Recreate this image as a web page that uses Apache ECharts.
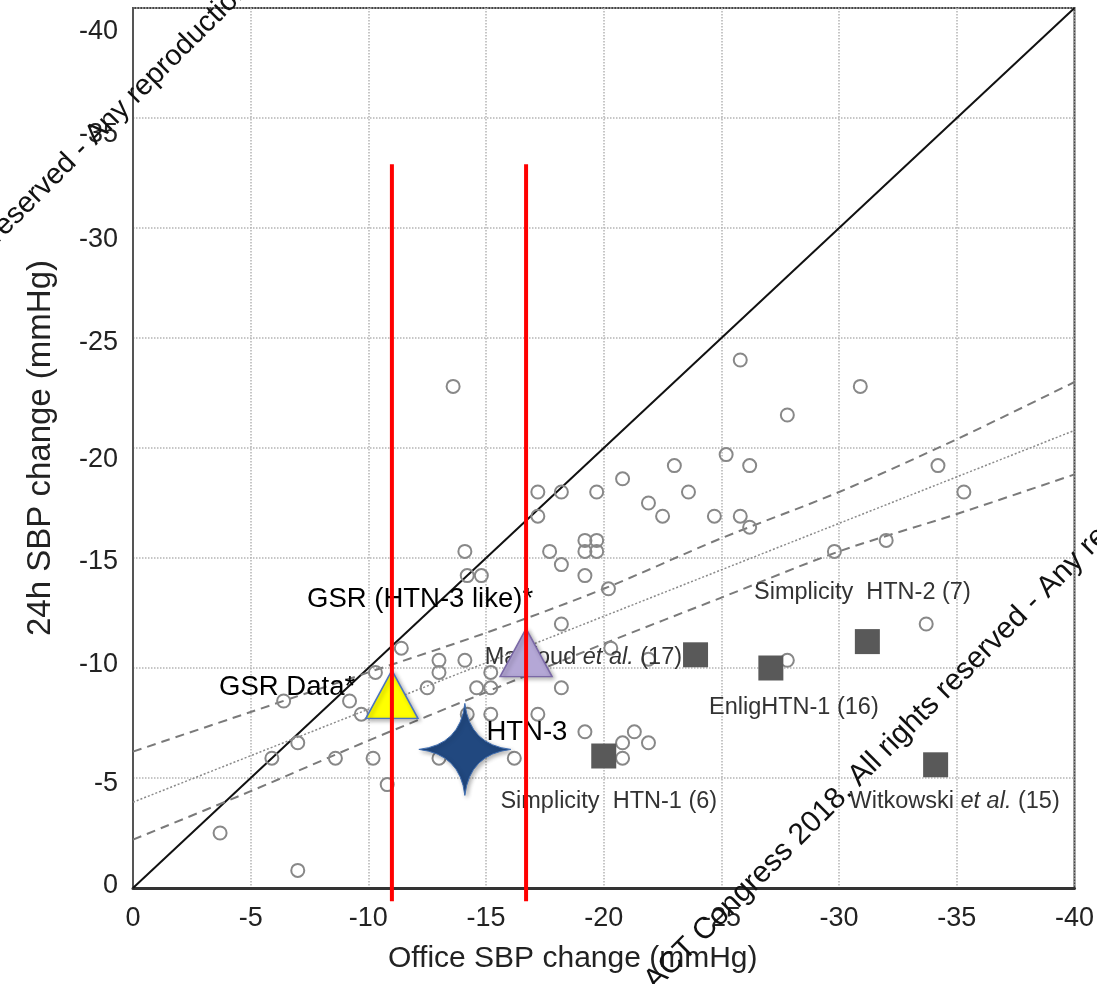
<!DOCTYPE html>
<html>
<head>
<meta charset="utf-8">
<script src="https://cdn.jsdelivr.net/npm/echarts@6/dist/echarts.min.js"></script>
<style>
  html, body { margin: 0; padding: 0; background: #fff; }
  #chart { width: 1097px; height: 984px; }
</style>
</head>
<body>
<div id="chart"></div>
<script>
// Axis ticks (mmHg)
const axisMin = -40;
const axisMax = 0;
const axisStep = 5;

// Line of identity and regression fit with its confidence band
const identityOffice = [0, -40];
const identity24h = [0, -40];
const fitOffice = [0, -40];
const fit24h = [-3.9, -20.8];
const bandOffice = [0, -5, -10, -15, -20, -25, -30, -35, -40];
const bandUpper = [-6.2, -8.0, -9.8, -11.6, -13.6, -15.9, -18.0, -20.4, -23.0];
const bandLower = [-2.2, -4.4, -6.7, -8.9, -11.1, -13.2, -15.3, -17.0, -18.8];

// Individual drug / device studies (open circles)
const studyOffice = [
  -13.6, -14.1, -25.8, -27.8, -25.2, -26.2, -23.0, -20.8, -17.2, -18.2,
  -19.7, -23.6, -17.2, -21.9, -22.5, -24.7, -25.8, -26.2, -19.2, -19.7,
  -19.2, -19.7, -17.7, -30.9, -34.2, -35.3, -20.2, -32.0, -29.8, -33.7,
  -14.2, -14.8, -18.2, -19.2, -18.2, -11.4, -13.0, -14.1, -10.3, -13.0,
  -15.2, -6.4, -9.2, -12.5, -14.6, -15.2, -9.7, -7.0, -5.9, -8.6,
  -10.2, -13.0, -16.2, -14.2, -15.2, -10.8, -3.7, -7.0, -20.3, -21.9,
  -18.2, -17.2, -19.2, -21.3, -21.9, -20.8, -20.8, -27.8
];
const study24h = [
  -22.8, -15.3, -24.0, -21.5, -19.7, -19.2, -19.2, -18.6, -18.0, -18.0,
  -18.0, -18.0, -16.9, -17.5, -16.9, -16.9, -16.9, -16.4, -15.8, -15.8,
  -15.3, -15.3, -15.3, -22.8, -19.2, -18.0, -13.6, -15.8, -15.3, -12.0,
  -14.2, -14.2, -14.7, -14.2, -12.0, -10.9, -10.35, -10.35, -9.8, -9.8,
  -9.8, -8.5, -8.5, -9.1, -9.1, -9.1, -7.9, -6.6, -5.9, -5.9,
  -5.9, -5.9, -5.9, -7.9, -7.9, -4.7, -2.5, -0.8, -10.9, -10.4,
  -9.1, -7.9, -7.1, -7.1, -6.6, -6.6, -5.9, -10.35
];

// Renal denervation trials (filled squares)
const trialNames = ['Simplicity  HTN-1 (6)', 'Mahfoud et al. (17)', 'EnligHTN-1 (16)', 'Simplicity  HTN-2 (7)', 'Witkowski et al. (15)'];
const trialOffice = [-20.0, -23.9, -27.1, -31.2, -34.1];
const trial24h = [-6.0, -10.6, -10.0, -11.2, -5.6];

// GSR results (triangles)
const gsrNames = ['GSR Data*', 'GSR (HTN-3 like)*'];
const gsrOffice = [-11.0, -16.7];
const gsr24h = [-8.8, -10.7];

// HTN-3 (star)
const htn3Name = 'HTN-3';
const htn3Office = -14.1;
const htn324h = -6.3;

// Reference cut-offs (red verticals)
const cutoffOffice = [-11.0, -16.7];
const cutoffSpan = [-32.9, 0.6];

// ---------- layout / style ----------
const FONT = "'Liberation Sans', Arial, sans-serif";
const TICK_FONT = 27;
const TRIAL_FONT = 23.5;

// vertical nudge (px) of each y tick label below its gridline
const yLabelDrop = { 40: 24, 35: 17, 30: 12, 25: 5, 20: 12, 15: 4, 10: -3, 5: 6, 0: -2 };
const yRich = {};
Object.keys(yLabelDrop).forEach(k => {
  const d = yLabelDrop[k];
  yRich['t' + k] = {
    fontSize: TICK_FONT, fontFamily: FONT, color: '#222',
    padding: d >= 0 ? [2 * d, 0, 0, 0] : [0, 0, -2 * d, 0]
  };
});

const trialLabelLayout = [
  { position: 'inside', offset: [5, 46] },
  { position: 'left', distance: 1, offset: [0, 3] },
  { position: 'inside', offset: [23, 40] },
  { position: 'inside', offset: [-5, -49] },
  { position: 'inside', offset: [19, 37] }
];
const gsrStyle = [
  { fill: '#ffff00', stroke: '#4a74c0', label: { position: 'left', distance: 10, offset: [0, -7] } },
  { fill: '#b4a7d6', stroke: '#7a68a6', label: { position: 'inside', offset: [-106, -53] } }
];

function richName(name) {
  return name.replace('et al.', '{i|et al.}');
}

const zip = (xs, ys) => xs.map((x, i) => [x, ys[i]]);

const series = [
  {
    type: 'line', data: zip(identityOffice, identity24h), symbol: 'none', silent: true, z: 2,
    lineStyle: { color: '#111', width: 2 }
  },
  {
    type: 'line', data: zip(fitOffice, fit24h), symbol: 'none', silent: true, z: 2,
    lineStyle: { color: '#8a8a8a', width: 1.5, type: [2, 2] }
  },
  {
    type: 'line', data: zip(bandOffice, bandUpper), symbol: 'none', smooth: 0.3, silent: true, z: 2,
    lineStyle: { color: '#7a7a7a', width: 2, type: [9, 6] }
  },
  {
    type: 'line', data: zip(bandOffice, bandLower), symbol: 'none', smooth: 0.3, silent: true, z: 2,
    lineStyle: { color: '#7a7a7a', width: 2, type: [9, 6] }
  },
  {
    type: 'scatter', data: zip(studyOffice, study24h), symbol: 'circle', symbolSize: 13, z: 3,
    itemStyle: { color: 'rgba(0,0,0,0)', borderColor: '#888', borderWidth: 2, opacity: 1 }
  },
  {
    type: 'scatter', symbol: 'rect', symbolSize: 25, z: 4,
    itemStyle: { color: '#595959', opacity: 1 },
    data: trialNames.map((n, i) => ({
      name: n,
      value: [trialOffice[i], trial24h[i]],
      label: Object.assign({
        show: true,
        formatter: richName(n),
        fontSize: TRIAL_FONT, fontFamily: FONT, color: '#333',
        rich: { i: { fontSize: TRIAL_FONT, fontFamily: FONT, color: '#333', fontStyle: 'italic' } }
      }, trialLabelLayout[i])
    }))
  },
  {
    type: 'scatter', symbol: 'triangle', symbolSize: [52, 48], z: 5,
    data: gsrNames.map((n, i) => ({
      name: n,
      value: [gsrOffice[i], gsr24h[i]],
      itemStyle: {
        color: gsrStyle[i].fill, borderColor: gsrStyle[i].stroke, borderWidth: 1.5, opacity: 1,
        shadowBlur: 4, shadowOffsetX: 2, shadowOffsetY: 2, shadowColor: 'rgba(0,0,0,0.3)'
      },
      label: Object.assign({
        show: true, formatter: n, fontSize: 27.5, fontFamily: FONT, color: '#000'
      }, gsrStyle[i].label)
    }))
  },
  {
    type: 'scatter', z: 5,
    symbol: 'path://M50 0 Q55 45 100 50 Q55 55 50 100 Q45 55 0 50 Q45 45 50 0 Z',
    symbolSize: [92, 92],
    itemStyle: {
      color: '#21487f', borderColor: '#3f6db0', borderWidth: 1, opacity: 1,
      shadowBlur: 4, shadowOffsetX: 2, shadowOffsetY: 2, shadowColor: 'rgba(0,0,0,0.3)'
    },
    data: [{
      name: htn3Name, value: [htn3Office, htn324h],
      label: {
        show: true, formatter: htn3Name, position: 'inside', offset: [62, -17],
        fontSize: 27.5, fontFamily: FONT, color: '#000'
      }
    }]
  }
];

cutoffOffice.forEach(x => {
  series.push({
    type: 'line', symbol: 'none', silent: true, clip: false, z: 8,
    data: cutoffSpan.map(y => [x, y]),
    lineStyle: { color: '#ff0000', width: 4 }
  });
});

const axisCommon = {
  type: 'value', min: axisMin, max: axisMax, interval: axisStep, inverse: true,
  axisTick: { show: false },
  splitLine: { show: true, lineStyle: { color: '#b4b4b4', width: 1.5, type: 'dotted' } },
  nameLocation: 'middle'
};

const option = {
  backgroundColor: '#fff',
  animation: false,
  grid: {
    left: 133, right: 22, top: 8, bottom: 96,
    show: true, borderColor: '#444', borderWidth: 2, backgroundColor: 'transparent'
  },
  xAxis: Object.assign({}, axisCommon, {
    position: 'bottom',
    name: 'Office SBP change (mmHg)', nameGap: 56,
    nameTextStyle: { fontSize: 30, fontFamily: FONT, color: '#222', padding: [0, 62, 0, 0] },
    axisLabel: { fontSize: TICK_FONT, fontFamily: FONT, color: '#222', margin: 17 },
    axisLine: { show: true, onZero: false, lineStyle: { color: '#333', width: 3 } }
  }),
  yAxis: Object.assign({}, axisCommon, {
    position: 'left',
    name: '24h SBP change (mmHg)', nameGap: 76,
    nameTextStyle: { fontSize: 33, fontFamily: FONT, color: '#222' },
    axisLabel: {
      fontSize: TICK_FONT, fontFamily: FONT, color: '#222', margin: 15,
      formatter: v => '{t' + Math.abs(v) + '|' + v + '}',
      rich: yRich
    },
    axisLine: { show: true, onZero: false, lineStyle: { color: '#555', width: 2 } }
  }),
  series: series,
  graphic: [
    {
      type: 'text', x: -8, y: 238, rotation: Math.PI / 4, z: 100, silent: true,
      style: { text: 'reserved - Any reproduction prohibited', fontSize: 29, fontFamily: FONT, fill: '#111', align: 'left', verticalAlign: 'middle' }
    },
    {
      type: 'text', x: 628, y: 1007, rotation: Math.PI / 4, z: 100, silent: true,
      style: { text: '\u00A9 ACT Congress 2018. All rights reserved - Any reproduction prohibited', fontSize: 30, fontFamily: FONT, fill: '#111', align: 'left', verticalAlign: 'middle' }
    }
  ]
};

const chart = echarts.init(document.getElementById('chart'), null, { renderer: 'canvas' });
chart.setOption(option);
</script>
</body>
</html>
